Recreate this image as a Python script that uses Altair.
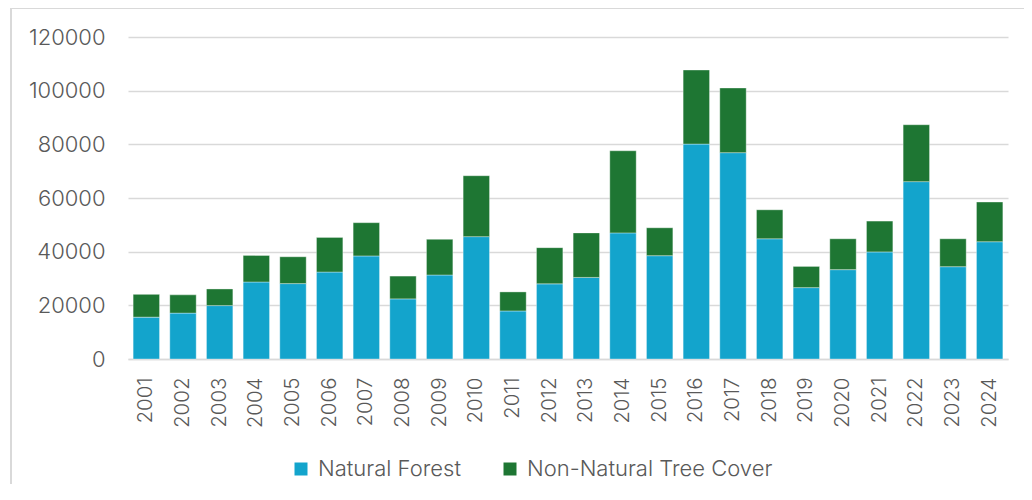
import altair as alt
import pandas as pd

years = [str(y) for y in range(2001, 2025)]
natural_forest = [15600, 17100, 19900, 28700, 28100, 32400, 38400, 22400, 31300, 45600,
                  17900, 28000, 30400, 47000, 38500, 80100, 76900, 44800, 26600, 33300,
                  39900, 66100, 34400, 43700]
non_natural = [8500, 6800, 6200, 9900, 10000, 12900, 12400, 8500, 13300, 22700,
               7100, 13500, 16600, 30600, 10400, 27600, 24100, 10800, 7900, 11500,
               11500, 21200, 10400, 14800]
series = ["Natural Forest", "Non-Natural Tree Cover"]
colors = ["#13A4CC", "#1E7633"]
y_ticks = [0, 20000, 40000, 60000, 80000, 100000, 120000]

rows = []
for i, yr in enumerate(years):
    rows.append({"year": yr, "series": series[0], "value": natural_forest[i], "ord": 0})
    rows.append({"year": yr, "series": series[1], "value": non_natural[i], "ord": 1})
df = pd.DataFrame(rows)

FONT = "Inter"
TXT = "#595959"
GRID = "#D9D9D9"

bars = alt.Chart(df).mark_bar(stroke="#ffffff", strokeWidth=0.6, strokeOpacity=0.6).encode(
    x=alt.X("year:N", sort=years, title=None,
            scale=alt.Scale(paddingInner=0.28, paddingOuter=0.14),
            axis=alt.Axis(labelAngle=-90, labelFontSize=20.5, labelColor=TXT, labelFont=FONT,
                          labelFontWeight=300,
                          labelPadding=18, ticks=False, domain=True, domainColor=GRID,
                          domainWidth=1.5, grid=False)),
    y=alt.Y("value:Q", stack="zero", title=None,
            scale=alt.Scale(domain=[0, 120000], nice=False),
            axis=alt.Axis(values=y_ticks, format="d", labelFontSize=22, labelColor=TXT,
                          labelFont=FONT, labelFontWeight=300, labelPadding=23, ticks=False,
                          domain=False, gridColor=GRID, gridWidth=1.5)),
    color=alt.Color("series:N", sort=series,
                    scale=alt.Scale(domain=series, range=colors),
                    legend=alt.Legend(title=None, orient="none", direction="horizontal",
                                      legendX=162, legendY=421, symbolType="square",
                                      symbolSize=169, symbolStrokeWidth=0,
                                      labelFontSize=22, labelColor=TXT, labelFont=FONT,
                                      labelFontWeight=300, labelLimit=500,
                                      labelOffset=6, columnPadding=38)),
    order=alt.Order("ord:Q"),
)

frame_top = alt.Chart(df).mark_rule(color=GRID, strokeWidth=1.5).encode(
    x=alt.value(-117), x2=alt.value(900), y=alt.value(-29))
frame_left = alt.Chart(df).mark_rule(color=GRID, strokeWidth=1.5).encode(
    x=alt.value(-117), y=alt.value(-29), y2=alt.value(460))

chart = alt.layer(frame_top, frame_left, bars).properties(
    width=880, height=322,
    autosize=alt.AutoSizeParams(type="none"),
    padding={"left": 120, "top": 29, "right": 16, "bottom": 125},
    background="white",
).configure_view(stroke=None)

chart.save("out.html", embed_options={"renderer": "svg", "actions": False})
